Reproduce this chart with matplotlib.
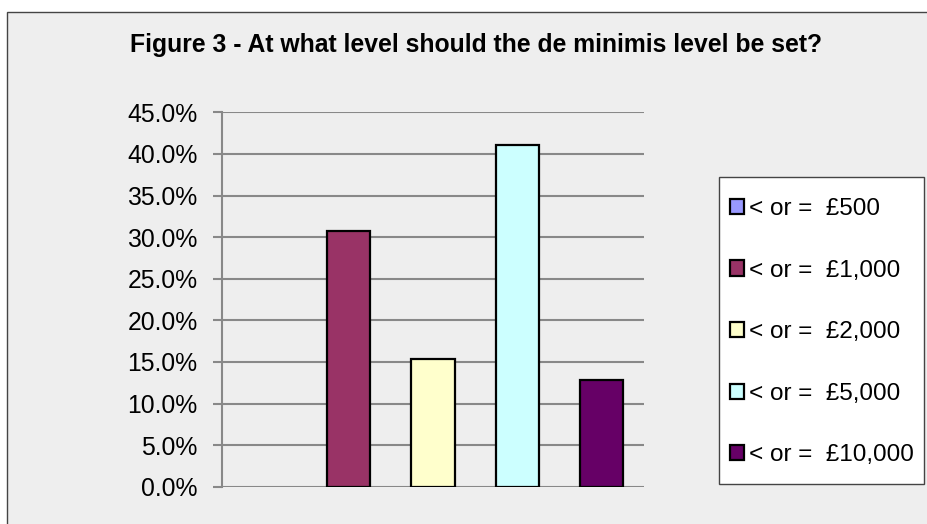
import matplotlib
matplotlib.use("Agg")
import matplotlib.pyplot as plt
from matplotlib.patches import Rectangle, Patch
from matplotlib.ticker import PercentFormatter, MultipleLocator

# Survey responses: share choosing each threshold
series_labels = ["< or =  £500", "< or =  £1,000", "< or =  £2,000",
                 "< or =  £5,000", "< or =  £10,000"]
shares = [0.0, 30.77, 15.38, 41.03, 12.82]
colors = ["#9999FF", "#993366", "#FFFFCC", "#CCFFFF", "#660066"]
title = "Figure 3 - At what level should the de minimis level be set?"

W, H = 928, 524
fig = plt.figure(figsize=(W / 100, H / 100), dpi=100, facecolor="white")

# chart area panel with border
fig.patches.append(Rectangle((7 / W, -0.1), 1.2, (H - 12) / H + 0.1,
                             transform=fig.transFigure, facecolor="#EEEEEE",
                             edgecolor="#444444", linewidth=1.0, zorder=-5))
# legend box
fig.patches.append(Rectangle((719 / W, 1 - 484 / H), 205 / W, 307 / H,
                             transform=fig.transFigure, facecolor="white",
                             edgecolor="#444444", linewidth=1.0, zorder=-4))

ax = fig.add_axes([222 / W, (H - 486.7) / H, 422 / W, 374.4 / H])
ax.set_facecolor("none")
ax.set_zorder(1)

n = len(shares)
slot = 1.0 / n
width = 0.102
handles = []
for i, (v, c, lab) in enumerate(zip(shares, colors, series_labels)):
    x = slot * (i + 0.5)
    if v > 0:
        ax.bar(x, v, width=width, color=c, edgecolor="black", linewidth=1.6, zorder=3)
    handles.append(Patch(facecolor=c, edgecolor="black", linewidth=1.6, label=lab))

ax.set_xlim(0, 1)
ax.set_ylim(0, 45)
ax.yaxis.set_major_locator(MultipleLocator(5))
ax.yaxis.set_major_formatter(PercentFormatter(decimals=1))
ax.grid(axis="y", color="#888888", linewidth=1.5, zorder=1)
ax.set_xticks([])
for s in ["top", "right", "bottom"]:
    ax.spines[s].set_visible(False)
ax.spines["left"].set_color("#888888")
ax.spines["left"].set_linewidth(1.5)
ax.tick_params(axis="y", length=6.5, width=1.5, color="#888888", pad=11,
               labelsize=17.8, labelcolor="black")
for t in ax.get_yticklabels():
    t.set_fontfamily(["Liberation Sans", "DejaVu Sans"])

fig.text(476 / W, 1 - 45 / H, title, ha="center", va="center",
         fontsize=17.8, fontweight="bold",
         family=["Liberation Sans", "DejaVu Sans"])

leg = fig.legend(handles=handles, loc="upper left",
                 bbox_to_anchor=(730 / W, 1 - 198 / H),
                 prop={"family": ["Liberation Sans", "DejaVu Sans"], "size": 17.5},
                 frameon=False, borderpad=0.0, labelspacing=1.63,
                 handlelength=0.58, handleheight=0.58, handletextpad=0.22,
                 borderaxespad=0.0)
leg.set_zorder(2)

fig.savefig("out.png", dpi=100, facecolor="white")
